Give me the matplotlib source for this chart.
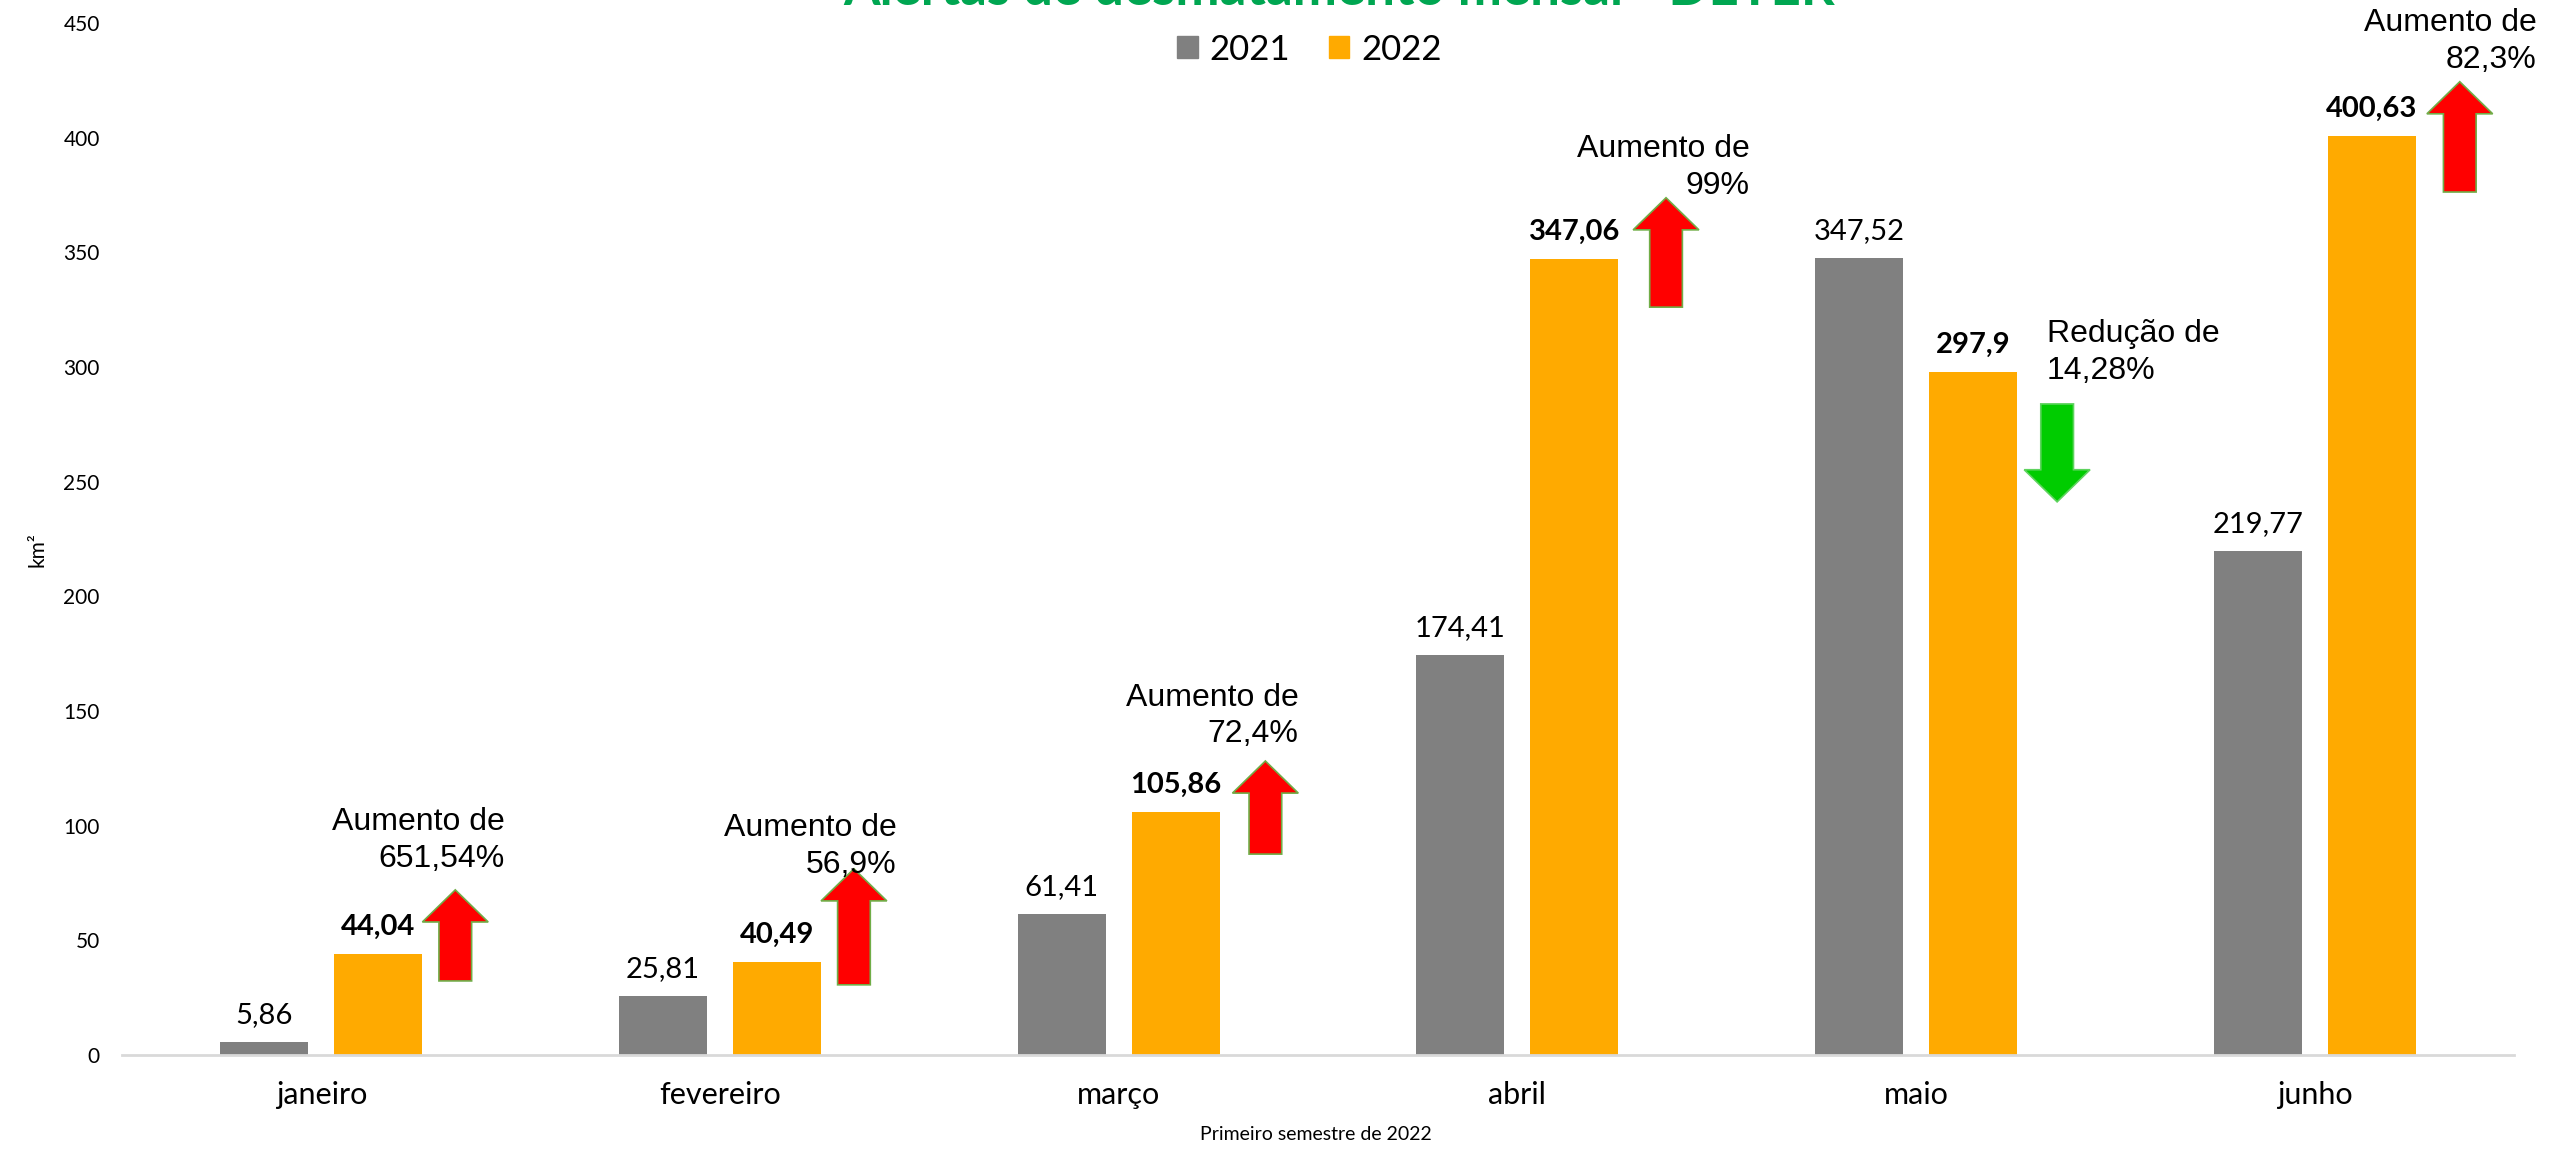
import numpy as np
import matplotlib.pyplot as plt
from matplotlib.patches import Patch, Polygon

# Data
meses = ['janeiro', 'fevereiro', 'março', 'abril', 'maio', 'junho']
v2021 = [5.86, 25.81, 61.41, 174.41, 347.52, 219.77]
v2022 = [44.04, 40.49, 105.86, 347.06, 297.9, 400.63]
lbl2021 = ['5,86', '25,81', '61,41', '174,41', '347,52', '219,77']
lbl2022 = ['44,04', '40,49', '105,86', '347,06', '297,9', '400,63']

# variation notes and arrows (arrow start -> end, km²)
notas = ['Aumento de\n651,54%', 'Aumento de\n56,9%', 'Aumento de\n72,4%',
         'Aumento de\n99%', 'Redução de\n14,28%', 'Aumento de\n82,3%']
nota_y = [93.6, 91.1, 147.8, 387.0, 306.2, 441.8]
nota_dx = [0.459, 0.443, 0.451, 0.582, 0.328, 0.557]
nota_ha = ['right', 'right', 'right', 'right', 'left', 'right']
seta_dx = [0.336, 0.336, 0.368, 0.373, 0.354, 0.364]
seta_ini = [32.3, 30.6, 87.6, 326.1, 283.9, 376.3]
seta_fim = [72.0, 81.2, 128.2, 373.8, 241.2, 424.4]

CINZA = '#808080'
LARANJA = '#FFAA00'
FONTE = 'Lato'

fig = plt.figure(figsize=(25.6, 11.53), dpi=100)
ax = fig.add_axes([122/2560, 98/1153, (2514-122)/2560, 1032/1153])

x = np.arange(len(meses))
w = 0.22
b1 = ax.bar(x - 0.143, v2021, w, color=CINZA)
b2 = ax.bar(x + 0.143, v2022, w, color=LARANJA)

for r, t in zip(b1, lbl2021):
    ax.annotate(t, (r.get_x() + r.get_width()/2, r.get_height()), xytext=(0, 10),
                textcoords='offset points', ha='center', va='bottom',
                fontsize=21, family=FONTE)
for r, t in zip(b2, lbl2022):
    ax.annotate(t, (r.get_x() + r.get_width()/2, r.get_height()), xytext=(0, 10),
                textcoords='offset points', ha='center', va='bottom',
                fontsize=21, family=FONTE, fontweight='bold')

# arrows
head_w, shaft_w, head_l = 0.165, 0.082, 14
for i in range(len(meses)):
    xc = x[i] + seta_dx[i]
    y0, y1 = seta_ini[i], seta_fim[i]
    s = 1 if y1 > y0 else -1
    yh = y1 - s * head_l
    pts = [(xc - shaft_w/2, y0), (xc + shaft_w/2, y0), (xc + shaft_w/2, yh),
           (xc + head_w/2, yh), (xc, y1), (xc - head_w/2, yh), (xc - shaft_w/2, yh)]
    if s > 0:
        ax.add_patch(Polygon(pts, closed=True, facecolor='#FF0000',
                             edgecolor='#70AD47', linewidth=1.2, zorder=3))
    else:
        ax.add_patch(Polygon(pts, closed=True, facecolor='#00CC00',
                             edgecolor='#5FD35F', linewidth=1.2, zorder=3))
    ax.text(x[i] + nota_dx[i], nota_y[i], notas[i], ha=nota_ha[i], va='center',
            fontsize=23, family='Liberation Sans', multialignment=nota_ha[i],
            linespacing=1.3, clip_on=False)

ax.set_xlim(-0.5, len(meses) - 0.5)
ax.set_ylim(0, 450)
ax.set_yticks(np.arange(0, 451, 50))
ax.set_xticks(x)
ax.set_xticklabels(meses, fontsize=22, family=FONTE)
for t in ax.get_yticklabels():
    t.set_fontsize(15)
    t.set_family(FONTE)
ax.tick_params(axis='both', length=0)
ax.tick_params(axis='x', pad=19)
ax.tick_params(axis='y', pad=16)
for s in ['top', 'right', 'left']:
    ax.spines[s].set_visible(False)
ax.spines['bottom'].set_color('#D9D9D9')
ax.spines['bottom'].set_linewidth(2)

ax.set_ylabel('km²', fontsize=15, family=FONTE)
ax.yaxis.set_label_coords(-0.031, 0.49)
fig.text(1316/2560, 10/1153, 'Primeiro semestre de 2022', ha='center', va='bottom',
         fontsize=14, family=FONTE)

fig.text(1339/2560, 1 - 5/1153, 'Alertas de desmatamento mensal - DETER', ha='center',
         va='baseline', fontsize=38, fontweight='bold', color='#00A651', family=FONTE)

handles = [Patch(color=CINZA, label='2021'), Patch(color=LARANJA, label='2022')]
fig.legend(handles=handles, loc='center', bbox_to_anchor=(0.5115, 0.957), ncol=2,
           frameon=False, prop={'family': FONTE, 'size': 25}, handlelength=0.6,
           handleheight=0.6, handletextpad=0.35, columnspacing=1.1)

fig.savefig('out.png', dpi=100)
